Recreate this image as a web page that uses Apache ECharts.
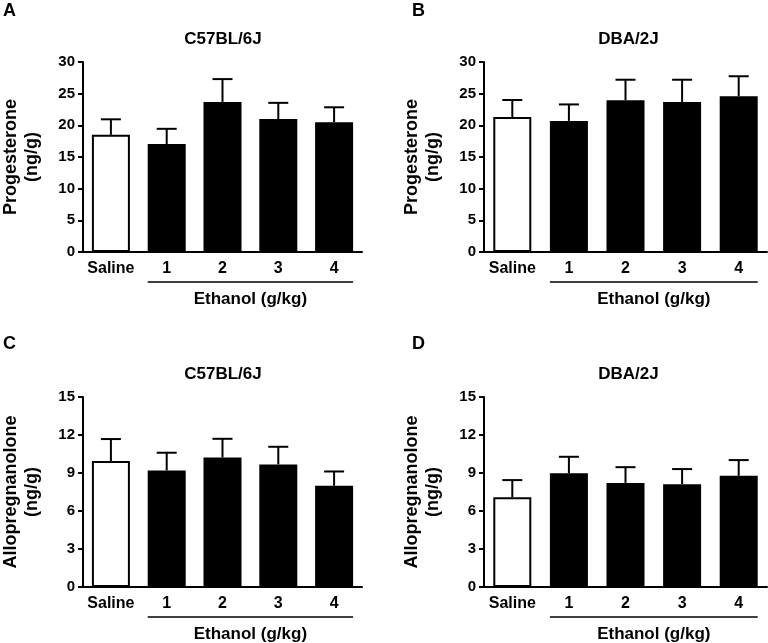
<!DOCTYPE html>
<html>
<head>
<meta charset="utf-8">
<script src="https://cdn.jsdelivr.net/npm/echarts@6/dist/echarts.min.js"></script>
<style>
  html, body { margin: 0; padding: 0; background: #fff; }
  #main { width: 768px; height: 643px; }
</style>
</head>
<body>
<div id="main"></div>
<script>
// groups on the x axis
var categories = ['Saline', '1', '2', '3', '4'];

// progesterone (ng/g), mean and SEM
var progC57 = [18.5, 17.05, 23.7, 21.0, 20.5];
var progC57Sem = [2.45, 2.4, 3.6, 2.55, 2.35];
var progDBA = [21.3, 20.7, 23.95, 23.7, 24.6];
var progDBASem = [2.7, 2.6, 3.25, 3.5, 3.15];

// allopregnanolone (ng/g), mean and SEM
var alloC57 = [9.95, 9.2, 10.23, 9.68, 7.99];
var alloC57Sem = [1.73, 1.4, 1.47, 1.39, 1.13];
var alloDBA = [7.09, 8.99, 8.22, 8.12, 8.78];
var alloDBASem = [1.35, 1.29, 1.24, 1.19, 1.24];

var panels = [
    { letter: 'A', title: 'C57BL/6J', yName: 'Progesterone\n(ng/g)', max: 30, step: 5, mean: progC57, sem: progC57Sem },
    { letter: 'B', title: 'DBA/2J', yName: 'Progesterone\n(ng/g)', max: 30, step: 5, mean: progDBA, sem: progDBASem },
    { letter: 'C', title: 'C57BL/6J', yName: 'Allopregnanolone\n(ng/g)', max: 15, step: 3, mean: alloC57, sem: alloC57Sem },
    { letter: 'D', title: 'DBA/2J', yName: 'Allopregnanolone\n(ng/g)', max: 15, step: 3, mean: alloDBA, sem: alloDBASem }
];

var FONT = 'Arial, "Liberation Sans", sans-serif';
var gridBoxes = [
    { left: 78, top: 62, width: 284, height: 190 },
    { left: 484, top: 62, width: 283, height: 190 },
    { left: 78, top: 397, width: 284, height: 190 },
    { left: 484, top: 397, width: 283, height: 190 }
];
var letterPos = [[3, 2], [412, 2], [3, 335], [412, 335]];

var dom = document.getElementById('main');
var myChart = echarts.init(dom);

var grids = [], xAxes = [], yAxes = [], titles = [], series = [], letters = [];

panels.forEach(function (p, i) {
    var g = gridBoxes[i];
    grids.push({ left: g.left, top: g.top, width: g.width, height: g.height, containLabel: false });
    titles.push({
        text: p.title,
        left: g.left + g.width / 2 - 2,
        top: g.top - 36,
        textAlign: 'center',
        textStyle: { fontFamily: FONT, fontWeight: 'bold', fontSize: 17, color: '#000' }
    });
    xAxes.push({
        type: 'category',
        gridIndex: i,
        data: categories,
        axisLine: { lineStyle: { color: '#000', width: 2 } },
        axisTick: { show: false },
        axisLabel: { interval: 0, color: '#000', fontFamily: FONT, fontWeight: 'bold', fontSize: 16, margin: 9 }
    });
    yAxes.push({
        type: 'value',
        gridIndex: i,
        min: 0,
        max: p.max,
        interval: p.step,
        name: p.yName,
        nameLocation: 'middle',
        nameGap: 40,
        nameTextStyle: { color: '#000', fontFamily: FONT, fontWeight: 'bold', fontSize: 18, lineHeight: 21 },
        axisLine: { show: true, lineStyle: { color: '#000', width: 2 } },
        axisTick: { show: true, length: 5, lineStyle: { color: '#000', width: 2 } },
        axisLabel: { color: '#000', fontFamily: FONT, fontWeight: 'bold', fontSize: 15, margin: 8 },
        splitLine: { show: false }
    });
    series.push({
        type: 'bar',
        xAxisIndex: i,
        yAxisIndex: i,
        barWidth: 38,
        data: p.mean.map(function (v, k) {
            return k === 0
                ? { value: v, itemStyle: { color: '#fff', borderColor: '#000', borderWidth: 2 } }
                : { value: v, itemStyle: { color: '#000', borderColor: '#000', borderWidth: 2 } };
        })
    });
    // upper error bars (mean -> mean + SEM)
    series.push({
        type: 'custom',
        xAxisIndex: i,
        yAxisIndex: i,
        z: 5,
        data: p.mean.map(function (v, k) { return [k, v, v + p.sem[k]]; }),
        renderItem: function (params, api) {
            var base = api.coord([api.value(0), api.value(1)]);
            var top = api.coord([api.value(0), api.value(2)]);
            var style = { stroke: '#000', lineWidth: 2 };
            return {
                type: 'group',
                children: [
                    { type: 'line', shape: { x1: base[0], y1: base[1], x2: top[0], y2: top[1] }, style: style },
                    { type: 'line', shape: { x1: top[0] - 10, y1: top[1], x2: top[0] + 10, y2: top[1] }, style: style }
                ]
            };
        }
    });
    letters.push({
        type: 'text',
        left: letterPos[i][0],
        top: letterPos[i][1],
        style: { text: p.letter, font: 'bold 18px ' + FONT, fill: '#000' }
    });
});

option = null;
option = {
    backgroundColor: '#fff',
    animation: false,
    title: titles,
    grid: grids,
    xAxis: xAxes,
    yAxis: yAxes,
    series: series,
    graphic: letters
};

if (option && typeof option === "object") {
    myChart.setOption(option, true);

    // bracket line under the ethanol doses and its label
    var extra = [];
    panels.forEach(function (p, i) {
        var first = myChart.convertToPixel({ xAxisIndex: i, yAxisIndex: i }, ['1', 0]);
        var last = myChart.convertToPixel({ xAxisIndex: i, yAxisIndex: i }, ['4', 0]);
        var x1 = first[0] - 19, x2 = last[0] + 19;
        extra.push({
            type: 'line',
            shape: { x1: x1, y1: first[1] + 30, x2: x2, y2: first[1] + 30 },
            style: { stroke: '#000', lineWidth: 1.5 }
        });
        extra.push({
            type: 'text',
            x: (x1 + x2) / 2,
            y: first[1] + 47,
            style: { text: 'Ethanol (g/kg)', font: 'bold 17px ' + FONT, fill: '#000', textAlign: 'center', textVerticalAlign: 'middle' }
        });
    });
    myChart.setOption({ graphic: letters.concat(extra) });
}
</script>
</body>
</html>
